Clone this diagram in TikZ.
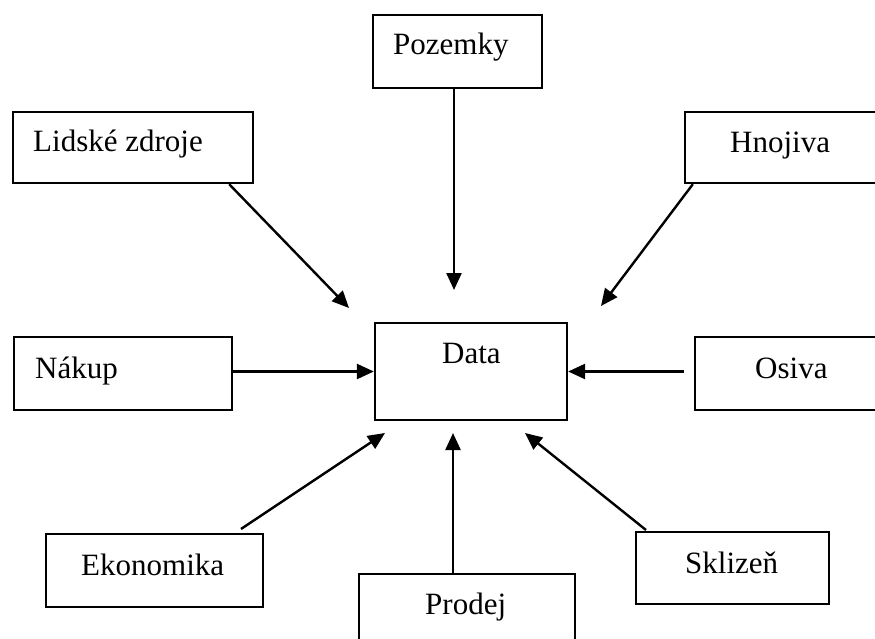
\documentclass[tikz,border=0pt]{standalone}
\usepackage{fontspec}
\setmainfont{Liberation Serif}
\usetikzlibrary{arrows.meta}
\begin{document}
\begin{tikzpicture}[x=1pt,y=-1pt,
  box/.style={draw=black,line width=2.3pt,rectangle,inner sep=0pt},
  txt/.style={anchor=base west,inner sep=0pt,font=\fontsize{31}{37}\selectfont},
  arr/.style={line width=2.4pt,-{Triangle[length=17pt,width=15pt]}}]
\useasboundingbox (0,0) rectangle (875,639);
\clip (0,0) rectangle (875,639);
% boxes
\node[box,minimum width=169,minimum height=73] (poz) at (457.5,51.5) {};
\node[box,minimum width=240,minimum height=71] (lz) at (133,147.5) {};
\node[box,minimum width=230,minimum height=71] (hn) at (800,147.5) {};
\node[box,minimum width=192,minimum height=97] (data) at (471,371.5) {};
\node[box,minimum width=218,minimum height=73] (nak) at (123,373.5) {};
\node[box,minimum width=230,minimum height=73] (os) at (810,373.5) {};
\node[box,minimum width=217,minimum height=73] (eko) at (154.5,570.5) {};
\node[box,minimum width=216,minimum height=90] (pro) at (467,619) {};
\node[box,minimum width=193,minimum height=72] (skl) at (732.5,568) {};
% texts
\node[txt] (tpoz) at (393,55) {Pozemky};
\node[txt] (tlz) at (33,152) {Lidské zdroje};
\node[txt] (thn) at (730,153) {Hnojiva};
\node[txt] (tdata) at (442,363) {Data};
\node[txt] (tnak) at (35,378) {Nákup};
\node[txt] (tos) at (755,378) {Osiva};
\node[txt] (teko) at (81,575) {Ekonomika};
\node[txt] (tpro) at (425,614) {Prodej};
\node[txt] (tskl) at (685,573) {Sklizeň};
% arrow end points
\coordinate (e1) at (454,290);
\coordinate (e2) at (349,308);
\coordinate (e3) at (601,306);
\coordinate (e6) at (385,433);
\coordinate (e7) at (453,433);
\coordinate (e8) at (525,433);
% connectors
\draw[arr] (poz.south -| e1) -- (e1);
\draw[arr] ([xshift=-25pt]lz.south east) -- (e2);
\draw[arr] ([xshift=9pt]hn.south west) -- (e3);
\draw[arr] (nak.east |- data.west) -- (data.west);
\draw[arr] ([xshift=-10pt]os.west |- data.east) -- (data.east);
\draw[arr] (241,529) -- (e6);
\draw[arr] (pro.north -| e7) -- (e7);
\draw[arr] (646,530) -- (e8);
\end{tikzpicture}
\end{document}
